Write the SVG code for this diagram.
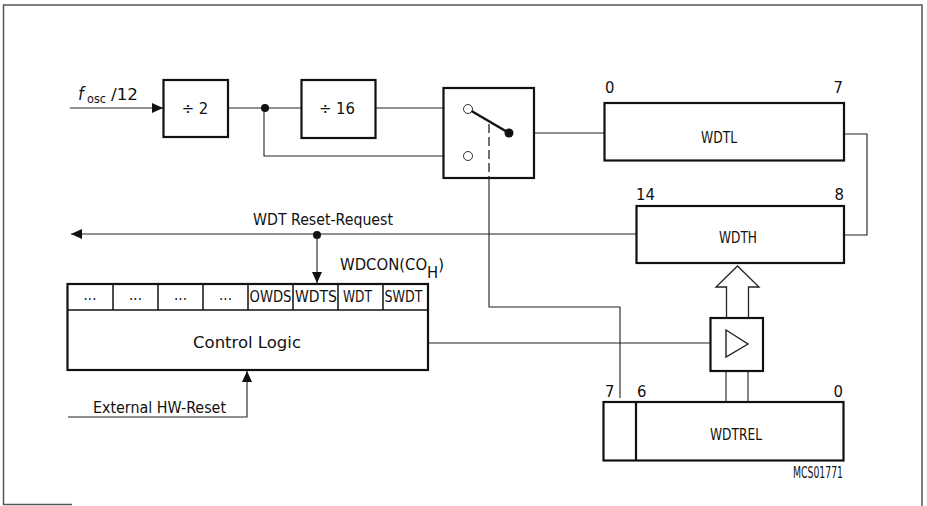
<svg xmlns="http://www.w3.org/2000/svg" width="927" height="506" viewBox="0 0 927 506">
<defs>
<style>
.box{fill:#fff;stroke:#111;stroke-width:2.2}
.cell{fill:none;stroke:#111;stroke-width:1.5}
.ln{fill:none;stroke:#222;stroke-width:1.1}
.t{font-family:"Liberation Sans Narrow","DejaVu Sans Condensed","Liberation Sans",sans-serif;font-size:16.5px;fill:#111}
.s{font-family:"Liberation Sans Narrow","DejaVu Sans Condensed","Liberation Sans",sans-serif;font-size:15px;fill:#111}
.dot{fill:#111}
.oc{fill:#fff;stroke:#333;stroke-width:1}
</style>
<marker id="ah" markerUnits="userSpaceOnUse" markerWidth="12" markerHeight="10" refX="11" refY="5" orient="auto">
<path d="M0,0 L11,5 L0,10 Z" fill="#111"/>
</marker>
</defs>
<rect width="927" height="506" fill="#fff"/>
<path d="M72,504.5 H3.5 V5 H922 V506" fill="none" stroke="#555" stroke-width="1.5"/>

<g id="connectors">
<line class="ln" x1="70" y1="108" x2="163" y2="108" marker-end="url(#ah)"/>
<line class="ln" x1="228" y1="108" x2="301" y2="108"/>
<polyline class="ln" points="264,108 264,156 463.5,156"/>
<line class="ln" x1="375" y1="108" x2="463.5" y2="108"/>
<line class="ln" x1="509" y1="133" x2="604" y2="133"/>
<polyline class="ln" points="844,134 867,134 867,235 844,235"/>
<line class="ln" x1="636" y1="234" x2="71" y2="234" marker-end="url(#ah)"/>
<circle class="dot" cx="317" cy="235" r="4"/>
<line class="ln" x1="317" y1="235" x2="317" y2="283" marker-end="url(#ah)"/>
<polyline class="ln" points="489,178 489,307 620,307 620,398"/>
<line class="ln" x1="428" y1="343" x2="710" y2="343"/>
<polyline class="ln" points="68,417 247,417 247,371" marker-end="url(#ah)"/>
<line class="ln" x1="726" y1="371" x2="726" y2="402"/>
<line class="ln" x1="748" y1="371" x2="748" y2="402"/>
<path d="M726.5,318 V287 H716 L737.5,266 L759,287 H748.5 V318" fill="#fff" stroke="#222" stroke-width="1.3"/>
</g>

<g id="fosc">
<text class="t" y="100"><tspan x="78" font-style="italic" font-size="18">f</tspan><tspan x="87" y="103" font-size="12.5">osc</tspan><tspan x="111" y="100" textLength="27" lengthAdjust="spacingAndGlyphs">/12</tspan></text>
</g>

<g id="div2">
<rect class="box" x="163.5" y="80" width="64.5" height="57"/>
<text class="t" x="195" y="114" text-anchor="middle">÷ 2</text>
</g>
<g id="junction">
<circle class="dot" cx="265" cy="108" r="4"/>
</g>

<g id="div16">
<rect class="box" x="301.5" y="80" width="74" height="58"/>
<text class="t" x="337" y="114" text-anchor="middle">÷ 16</text>
</g>

<g id="switch">
<rect class="box" x="443.5" y="88" width="90.5" height="90"/>
<circle class="oc" cx="468" cy="109" r="4.5"/>
<circle class="oc" cx="468" cy="156" r="4.5"/>
<line x1="471.5" y1="111" x2="509" y2="133" stroke="#111" stroke-width="2.5"/>
<circle class="dot" cx="509" cy="133" r="4.5"/>
<line x1="489" y1="124" x2="489" y2="178" stroke="#222" stroke-width="1.3" stroke-dasharray="9 4"/>
</g>

<g id="wdtl">
<rect class="box" x="604.5" y="103" width="239.5" height="57.5"/>
<text class="t" x="605" y="93">0</text>
<text class="t" x="843" y="93" text-anchor="end">7</text>
<text class="t" x="701" y="143" textLength="36" lengthAdjust="spacingAndGlyphs">WDTL</text>
</g>

<g id="wdth">
<rect class="box" x="636.5" y="206" width="207.5" height="57"/>
<text class="t" x="636" y="200">14</text>
<text class="t" x="844" y="200" text-anchor="end">8</text>
<text class="t" x="719" y="243" textLength="38" lengthAdjust="spacingAndGlyphs">WDTH</text>
</g>

<g id="reset-label">
<text class="t" x="253" y="225" textLength="140" lengthAdjust="spacingAndGlyphs">WDT Reset-Request</text>
</g>

<g id="wdcon">
<text class="t" x="340" y="270">WDCON(CO<tspan dy="8">H</tspan><tspan dy="-8">)</tspan></text>
<rect class="box" x="67.5" y="284" width="360.5" height="86"/>
<line class="cell" x1="67.5" y1="310" x2="428" y2="310"/>
<line class="cell" x1="113" y1="284" x2="113" y2="310"/>
<line class="cell" x1="158" y1="284" x2="158" y2="310"/>
<line class="cell" x1="203" y1="284" x2="203" y2="310"/>
<line class="cell" x1="248" y1="284" x2="248" y2="310"/>
<line class="cell" x1="293" y1="284" x2="293" y2="310"/>
<line class="cell" x1="338" y1="284" x2="338" y2="310"/>
<line class="cell" x1="383" y1="284" x2="383" y2="310"/>
<text class="s" x="90" y="300" text-anchor="middle">...</text>
<text class="s" x="135.5" y="300" text-anchor="middle">...</text>
<text class="s" x="180.5" y="300" text-anchor="middle">...</text>
<text class="s" x="225.5" y="300" text-anchor="middle">...</text>
<text class="s" x="249.5" y="302" textLength="42" lengthAdjust="spacingAndGlyphs">OWDS</text>
<text class="s" x="295" y="302" textLength="42" lengthAdjust="spacingAndGlyphs">WDTS</text>
<text class="s" x="343" y="302" textLength="29" lengthAdjust="spacingAndGlyphs">WDT</text>
<text class="s" x="384.5" y="302" textLength="38" lengthAdjust="spacingAndGlyphs">SWDT</text>
<text class="t" x="193" y="348" textLength="108" lengthAdjust="spacingAndGlyphs">Control Logic</text>
</g>

<g id="ext-reset">
<text class="t" x="93" y="413" textLength="133" lengthAdjust="spacingAndGlyphs">External HW-Reset</text>
</g>

<g id="buffer">
<rect class="box" x="710.5" y="318" width="52.5" height="53"/>
<path d="M726,330 L748,344 L726,357 Z" fill="none" stroke="#222" stroke-width="1.4"/>
</g>

<g id="wdtrel">
<rect class="box" x="603.5" y="402" width="240" height="58.5"/>
<line class="box" x1="636" y1="402" x2="636" y2="460.5"/>
<text class="t" x="605" y="397">7</text>
<text class="t" x="637" y="397">6</text>
<text class="t" x="843" y="397" text-anchor="end">0</text>
<text class="t" x="710" y="440" textLength="52" lengthAdjust="spacingAndGlyphs">WDTREL</text>
</g>

<g id="id-label">
<text class="t" x="793" y="478" font-size="11" textLength="50" lengthAdjust="spacingAndGlyphs">MCS01771</text>
</g>
</svg>
